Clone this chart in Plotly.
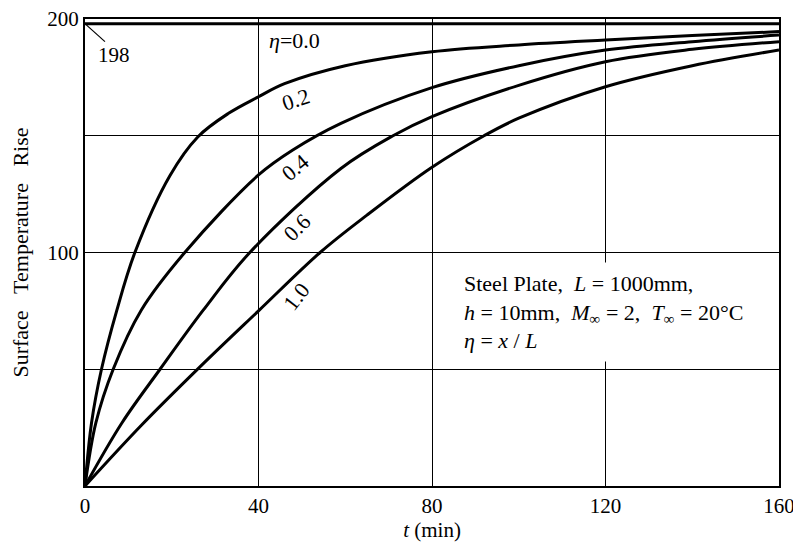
import plotly.graph_objects as go

# ---- data ----
t_eta00 = [0, 160]
v_eta00 = [198, 198]

t_eta02 = [0, 1.5, 3.8, 7.3, 11.5, 19.6, 26, 33, 40, 46, 60, 80, 100, 120, 140, 160]
v_eta02 = [0, 27, 50, 75, 100, 133, 149.5, 159.5, 166.7, 172.3, 180, 186, 188.9, 191, 192.9, 194.6]

t_eta04 = [0, 2.5, 6.5, 13, 23, 40, 48, 59, 80, 100, 120, 140, 160]
v_eta04 = [0, 27, 50, 75.4, 100, 133.2, 144, 155.3, 170.6, 180, 186.7, 190.3, 193.1]

t_eta06 = [0, 8.5, 17.3, 27.3, 38, 59, 71, 80, 100, 120, 140, 160]
v_eta06 = [0, 27, 50, 75.4, 100, 136, 150, 158.2, 171.6, 181.7, 187, 190.3]

t_eta10 = [0, 13, 26.5, 40, 54.2, 65, 80, 92, 100, 120, 140, 160]
v_eta10 = [0, 26, 51, 75, 100, 116, 136.5, 150, 157.5, 171, 180, 186.7]

x_ticks = [0, 40, 80, 120, 160]
y_ticks = [100, 200]
y_grid_step = 50

SERIF = "Liberation Serif, Times New Roman, serif"
NB = "\u00a0"

fig = go.Figure()
series = [
    (t_eta00, v_eta00, "η=0.0"),
    (t_eta02, v_eta02, "η=0.2"),
    (t_eta04, v_eta04, "η=0.4"),
    (t_eta06, v_eta06, "η=0.6"),
    (t_eta10, v_eta10, "η=1.0"),
]
for tx, vy, nm in series:
    fig.add_trace(go.Scatter(
        x=tx, y=vy, mode="lines", name=nm,
        line=dict(color="black", width=3, shape="spline", smoothing=1.0),
        hoverinfo="x+y+name",
    ))

# curve labels (rotated along the curves)
label_pos = [
    ("<i>η</i>=0.0", 48.4, 190.6, 0),
    ("0.2", 48.6, 165.6, -18),
    ("0.4", 48.4, 136.6, -40),
    ("0.6", 48.8, 110.8, -45),
    ("1.0", 48.8, 81.0, -52),
]
for txt, x, y, ang in label_pos:
    fig.add_annotation(x=x, y=y, text=txt, showarrow=False, textangle=ang,
                       font=dict(family=SERIF, size=22, color="black"))

# "198" marker with leader line
fig.add_annotation(x=6.7, y=184.4, text="198", showarrow=False,
                   font=dict(family=SERIF, size=21, color="black"))
fig.add_shape(type="line", x0=0.3, y0=197.5, x1=4.6, y1=190.3,
              line=dict(color="black", width=1.2))

# info box
fig.add_annotation(
    x=85.3, y=74.5, xanchor="left", yanchor="middle", align="left",
    text=(f"Steel Plate,{NB}{NB}<i>L</i>{NB}={NB}1000mm,<br>"
          f"<i>h</i>{NB}={NB}10mm,{NB}{NB}<i>M</i><sub>∞</sub>{NB}={NB}2,{NB}{NB}"
          f"<i>T</i><sub>∞</sub>{NB}={NB}20°C<br>"
          f"<i>η</i>{NB}={NB}<i>x</i>{NB}/{NB}<i>L</i>"),
    showarrow=False, bgcolor="white", borderpad=8,
    font=dict(family=SERIF, size=22, color="black"),
)

# the page body adds an 8px offset; size the figure so the plot lands where the reference has it
fig.update_layout(
    width=793, height=536,
    margin=dict(l=77, r=22, t=11, b=58),
    paper_bgcolor="white", plot_bgcolor="white",
    showlegend=False,
    font=dict(family=SERIF, color="black"),
)
fig.update_xaxes(
    range=[0, 160], tickvals=x_ticks, ticks="", automargin=False,
    ticklabeloverflow="allow",
    showgrid=True, gridcolor="black", gridwidth=1,
    showline=True, linecolor="black", linewidth=2, mirror=True,
    zeroline=False, tickfont=dict(family=SERIF, size=21),
    title=dict(text="<i>t</i> (min)", font=dict(family=SERIF, size=21), standoff=0),
)
fig.update_yaxes(
    range=[0, 200], tickvals=y_ticks, ticks="", automargin=False,
    ticklabeloverflow="allow",
    showgrid=True, gridcolor="black", gridwidth=1,
    minor=dict(tick0=0, dtick=y_grid_step, showgrid=True, gridcolor="black",
               gridwidth=1, ticks=""),
    showline=True, linecolor="black", linewidth=2, mirror=True,
    zeroline=False, tickfont=dict(family=SERIF, size=21),
    title=dict(text=f"Surface{NB*3}Temperature{NB*3}Rise",
               font=dict(family=SERIF, size=22), standoff=20),
)

fig.write_html("out.html")
